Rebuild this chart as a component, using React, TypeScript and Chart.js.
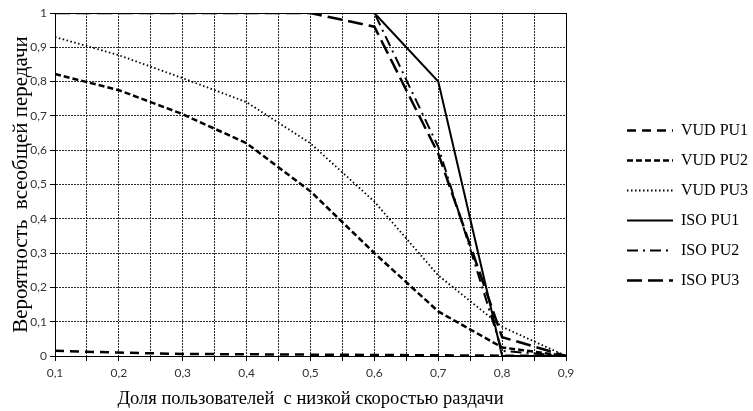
import React, { useEffect, useRef } from "react";
import { Chart, registerables } from "chart.js";

Chart.register(...registerables);

const xValues = [0.1, 0.2, 0.3, 0.4, 0.5, 0.6, 0.7, 0.8, 0.9];
const vudPu1 = [0.015, 0.01, 0.006, 0.005, 0.004, 0.003, 0.002, 0.001, 0];
const vudPu2 = [0.822, 0.775, 0.705, 0.62, 0.48, 0.3, 0.13, 0.025, 0];
const vudPu3 = [0.93, 0.877, 0.81, 0.74, 0.62, 0.45, 0.235, 0.085, 0];
const isoPu1 = [1, 1, 1, 1, 1, 1, 0.8, 0.0, 0];
const isoPu2 = [1, 1, 1, 1, 1, 1, 0.61, 0.015, 0];
const isoPu3 = [1, 1, 1, 1, 1, 0.96, 0.59, 0.055, 0];

const seriesLabels = ["VUD PU1", "VUD PU2", "VUD PU3", "ISO PU1", "ISO PU2", "ISO PU3"];
const xTitle = "Доля пользователей  с низкой скоростью раздачи";
const yTitle = "Вероятность  всеобщей передачи";

const fmt = (v: number) => {
  const r = Math.round(v * 100) / 100;
  if (Math.abs(r) < 1e-9) return "0";
  if (Math.abs(r - 1) < 1e-9) return "1";
  return r.toFixed(1).replace(".", ",");
};

export default function App() {
  const ref = useRef<HTMLCanvasElement | null>(null);
  useEffect(() => {
    if (!ref.current) return;
    const series = [vudPu1, vudPu2, vudPu3, isoPu1, isoPu2, isoPu3];
    const styles = [
      { dash: [9, 6], width: 2.5 },
      { dash: [6, 3], width: 2.5 },
      { dash: [1.5, 2.5], width: 1.8 },
      { dash: [], width: 2 },
      { dash: [11, 5, 2, 5], width: 2 },
      { dash: [15, 6], width: 2.5 },
    ];
    const datasets = series.map((arr, i) => ({
      label: seriesLabels[i],
      data: arr.map((y, j) => ({ x: xValues[j], y })),
      borderColor: "#000",
      backgroundColor: "#000",
      borderWidth: styles[i].width,
      borderDash: styles[i].dash,
      pointRadius: 0,
      pointStyle: "line",
      tension: 0,
      fill: false,
    }));
    const serif = "'Liberation Serif', 'Times New Roman', serif";
    const sans = "Lato, 'Open Sans', sans-serif";
    const chart = new Chart(ref.current, {
      type: "line",
      data: { datasets },
      options: {
        animation: false,
        responsive: false,
        layout: { padding: 0 },
        plugins: {
          tooltip: { enabled: false },
          legend: {
            position: "right",
            align: "center",
            maxWidth: 140,
            labels: {
              usePointStyle: true,
              pointStyle: "line",
              pointStyleWidth: 46,
              padding: 14,
              color: "#000",
              font: { family: serif, size: 16 },
              generateLabels: (c: any) =>
                (Chart as any).defaults.plugins.legend.labels.generateLabels(c).map((l: any) => {
                  const ds = c.data.datasets[l.datasetIndex];
                  return {
                    ...l,
                    pointStyle: "line",
                    lineDash: ds.borderDash,
                    lineWidth: ds.borderWidth,
                    strokeStyle: ds.borderColor,
                    fillStyle: ds.borderColor,
                    lineCap: "butt",
                  };
                }),
            },
          },
        },
        scales: {
          x: {
            type: "linear",
            position: "bottom",
            min: 0.1,
            max: 0.9,
            afterFit: (s: any) => { s.height = 55; },
            ticks: {
              stepSize: 0.05,
              autoSkip: false,
              maxRotation: 0,
              padding: 5,
              color: "#333",
              font: { family: sans, size: 12 },
              callback: (v: any) => {
                const n = Math.round(Number(v) * 100);
                return n % 10 === 0 ? fmt(Number(v)) : "";
              },
            },
            grid: { display: true, color: "#2a2a2a", lineWidth: 1, drawTicks: true, tickLength: 5, tickColor: "#000", tickBorderDash: [] },
            border: { display: true, color: "#000", width: 1, dash: [2, 1] },
            title: {
              display: true,
              text: xTitle,
              color: "#000",
              padding: { top: 0, bottom: 1 },
              font: { family: serif, size: 18.5 },
            },
          },
          x2: {
            type: "linear",
            position: "top",
            min: 0.1,
            max: 0.9,
            afterFit: (s: any) => { s.height = 13; },
            ticks: { display: false },
            grid: { display: false },
            border: { display: true, color: "#000", width: 1 },
          },
          y: {
            type: "linear",
            position: "left",
            min: 0,
            max: 1,
            afterFit: (s: any) => { s.width = 55; },
            ticks: {
              stepSize: 0.1,
              padding: 3,
              color: "#333",
              font: { family: sans, size: 12 },
              callback: (v: any) => fmt(Number(v)),
            },
            grid: { display: true, color: "#2a2a2a", lineWidth: 1, drawTicks: true, tickLength: 5, tickColor: "#000", tickBorderDash: [] },
            border: { display: true, color: "#000", width: 1, dash: [2, 1] },
            title: {
              display: true,
              text: yTitle,
              color: "#000",
              padding: { top: 9, bottom: 0 },
              font: { family: serif, size: 21 },
            },
          },
          y2: {
            type: "linear",
            position: "right",
            min: 0,
            max: 1,
            afterFit: (s: any) => { s.width = 47; },
            ticks: { display: false },
            grid: { display: false },
            border: { display: true, color: "#000", width: 1 },
          },
        },
      },
    } as any);
    return () => chart.destroy();
  }, []);
  return (
    <div style={{ position: "fixed", left: 0, top: 0, width: 753, height: 411, background: "#fff" }}>
      <canvas ref={ref} width={753} height={411} style={{ display: "block" }} />
    </div>
  );
}
